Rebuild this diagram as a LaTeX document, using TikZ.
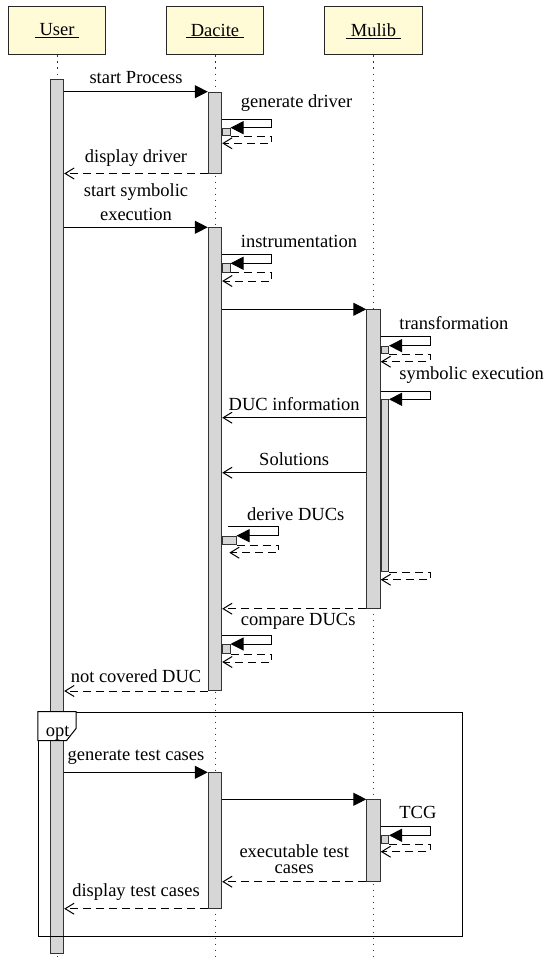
\documentclass[tikz,border=0pt]{standalone}
\usepackage{fontspec}
\setmainfont{Liberation Serif}
\usepackage{tikz}
\usetikzlibrary{arrows.meta, positioning}

\definecolor{headyellow}{HTML}{FFFBD6}
\definecolor{bargray}{HTML}{D6D6D6}

\begin{document}
\begin{tikzpicture}[x=1pt, y=-1pt, font=\fontsize{18.5}{22}\selectfont]
    \tikzstyle{head} = [rectangle, minimum width=97.6, minimum height=48, draw=black!85, fill=headyellow, line width=1pt]
    \tikzstyle{lifeline} = [black!80, line width=1pt, dash pattern=on 1.5pt off 4.5pt]
    \tikzstyle{bar} = [rectangle, anchor=north, minimum width=13.4, inner sep=0pt, draw=black!80, fill=bargray, line width=1pt]
    \tikzstyle{nested} = [rectangle, anchor=north west, minimum width=7.3, inner sep=0pt, draw=black!80, fill=bargray, line width=1pt]
    \tikzstyle{call} = [line width=1pt, -{Triangle[length=13pt, width=13pt]}]
    \tikzstyle{answer} = [line width=1pt, dash pattern=on 8pt off 5pt, -{Straight Barb[length=9pt, width=11pt]}]
    \tikzstyle{info} = [line width=1pt, -{Straight Barb[length=9pt, width=11pt]}]
    \tikzstyle{msg} = [anchor=base, inner sep=0pt]
    \tikzstyle{optframe} = [rectangle, anchor=north west, inner sep=0pt, draw=black, line width=1pt]

    \useasboundingbox (0,0) rectangle (549,958);

    % lifeline heads
    \node (user) [head] at (57,31) {\underline{\kern5pt User\kern5pt}};
    \node (dacite) [head] at (215,31) {\underline{\kern5pt Dacite\kern5pt}};
    \node (mulib) [head] at (373.5,31) {\underline{\kern5pt Mulib\kern5pt}};

    \foreach \who in {user, dacite, mulib}
        \draw [lifeline] (\who.south) -- (\who.south |- 0,958);

    % activations
    \node (ubar) [bar, minimum height=874] at (57,79.3) {};
    \node (dbar1) [bar, minimum height=80.8] at (215,91.7) {};
    \node (dbar2) [bar, minimum height=462.7] at (215,227.3) {};
    \node (dbar3) [bar, minimum height=135.4] at (215,772.3) {};
    \node (mbar1) [bar, minimum height=298.4] at (373.5,309.3) {};
    \node (mbar2) [bar, minimum height=81.4] at (373.5,799.3) {};

    % opt fragment
    \node (optbox) [optframe, minimum width=423.7, minimum height=224.3] at (37.8,711.7) {};
    \draw [line width=1pt, fill=white] (optbox.north west) -- ++(38.4,0) -- ++(0,16.6) -- ++(-9.8,12.4) -- ++(-28.6,0) -- cycle;
    \node (optlbl) [msg] at (57.7,736) {opt};

    % start process
    \draw [call] (ubar.east |- dbar1.north) -- (dbar1.north west);
    \node (startlbl) [msg] at (136,84) {start Process};

    \node (gen) [nested, minimum height=7.3] at (dbar1.east |- 0,127.7) {};
    \draw [call] (dbar1.east |- 0,119) -| ([xshift=41pt]gen.north east) -- (gen.north east);
    \draw [answer] (gen.south east) -- ([xshift=41pt]gen.south east) |- (dbar1.east |- 0,143.3);
    \node (genlbl) [msg, anchor=base west] at (240.7,107) {generate driver};

    \draw [answer] (dbar1.south west) -- (ubar.east |- dbar1.south);
    \node (displbl) [msg] at (136,162) {display driver};

    % symbolic execution
    \draw [call] (ubar.east |- dbar2.north) -- (dbar2.north west);
    \node (symlbl) [msg, align=center, font=\fontsize{18.5}{23.3}\selectfont] at (136,220) {start symbolic\\execution};

    \node (instr) [nested, minimum height=8.4] at (dbar2.east |- 0,263.3) {};
    \draw [call] (dbar2.east |- 0,254.7) -| ([xshift=41pt]instr.north east) -- (instr.north east);
    \draw [answer] (instr.south east) -- ([xshift=41pt]instr.south east) |- (dbar2.east |- 0,281);
    \node (instrlbl) [msg, anchor=base west] at (240.7,247.3) {instrumentation};

    \draw [call] (dbar2.east |- mbar1.north) -- (mbar1.north west);

    \node (trans) [nested, minimum height=7.6] at (mbar1.east |- 0,345.7) {};
    \draw [call] (mbar1.east |- 0,336.7) -| ([xshift=41pt]trans.north east) -- (trans.north east);
    \draw [answer] (trans.south east) -- ([xshift=41pt]trans.south east) |- (mbar1.east |- 0,361.7);
    \node (translbl) [msg, anchor=base west] at (399.2,329) {transformation};

    \node (symex) [nested, minimum height=171.7] at (mbar1.east |- 0,399.3) {};
    \draw [call] (mbar1.east |- 0,391) -| ([xshift=41pt]symex.north east) -- (symex.north east);
    \draw [answer] (symex.south east) -- ([xshift=41pt]symex.south east) |- (mbar1.east |- 0,579.7);
    \node (symexlbl) [msg, anchor=base west] at (399.2,379.3) {symbolic execution};

    \draw [info] (mbar1.west |- 0,417.7) -- (dbar2.east |- 0,417.7);
    \node (duclbl) [msg] at (294.2,410.7) {DUC information};

    \draw [info] (mbar1.west |- 0,472.7) -- (dbar2.east |- 0,472.7);
    \node (sollbl) [msg] at (294.2,465.7) {Solutions};

    % derive and compare
    \coordinate (derivestart) at (228.3,526.7);
    \coordinate (deriveend) at (229.3,552.7);
    \node (derive) [nested, minimum width=13.3, minimum height=8.3] at (dbar2.east |- 0,535.7) {};
    \draw [call] (derivestart) -| ([xshift=41.7pt]derive.north east) -- (derive.north east);
    \draw [answer] (derive.south east) -- ([xshift=41.7pt]derive.south east) |- (deriveend);
    \node (derivelbl) [msg, anchor=base west] at (247,520) {derive DUCs};

    \draw [answer] (mbar1.south west) -- (dbar2.east |- mbar1.south);

    \node (comp) [nested, minimum height=9] at (dbar2.east |- 0,644) {};
    \draw [call] (dbar2.east |- 0,635.7) -| ([xshift=41pt]comp.north east) -- (comp.north east);
    \draw [answer] (comp.south east) -- ([xshift=41pt]comp.south east) |- (dbar2.east |- 0,662);
    \node (complbl) [msg, anchor=base west] at (240.7,625) {compare DUCs};

    \draw [answer] (dbar2.south west) -- (ubar.east |- dbar2.south);
    \node (notlbl) [msg] at (136,682.7) {not covered DUC};

    % test case generation
    \draw [call] (ubar.east |- dbar3.north) -- (dbar3.north west);
    \node (genteslbl) [msg] at (136,760.7) {generate test cases};

    \draw [call] (dbar3.east |- mbar2.north) -- (mbar2.north west);

    \node (tcg) [nested, minimum height=8] at (mbar2.east |- 0,835.3) {};
    \draw [call] (mbar2.east |- 0,826.7) -| ([xshift=41pt]tcg.north east) -- (tcg.north east);
    \draw [answer] (tcg.south east) -- ([xshift=41pt]tcg.south east) |- (mbar2.east |- 0,851.7);
    \node (tcglbl) [msg, anchor=base west] at (399.2,818.5) {TCG};

    \draw [answer] (mbar2.south west) -- (dbar3.east |- mbar2.south);
    \node (execlbl) [msg, align=center, font=\fontsize{18.5}{16}\selectfont] at (294.2,873.5) {executable test\\cases};

    \draw [answer] (dbar3.south west) -- (ubar.east |- dbar3.south);
    \node (displaylbl) [msg] at (136,896.7) {display test cases};
\end{tikzpicture}
\end{document}
